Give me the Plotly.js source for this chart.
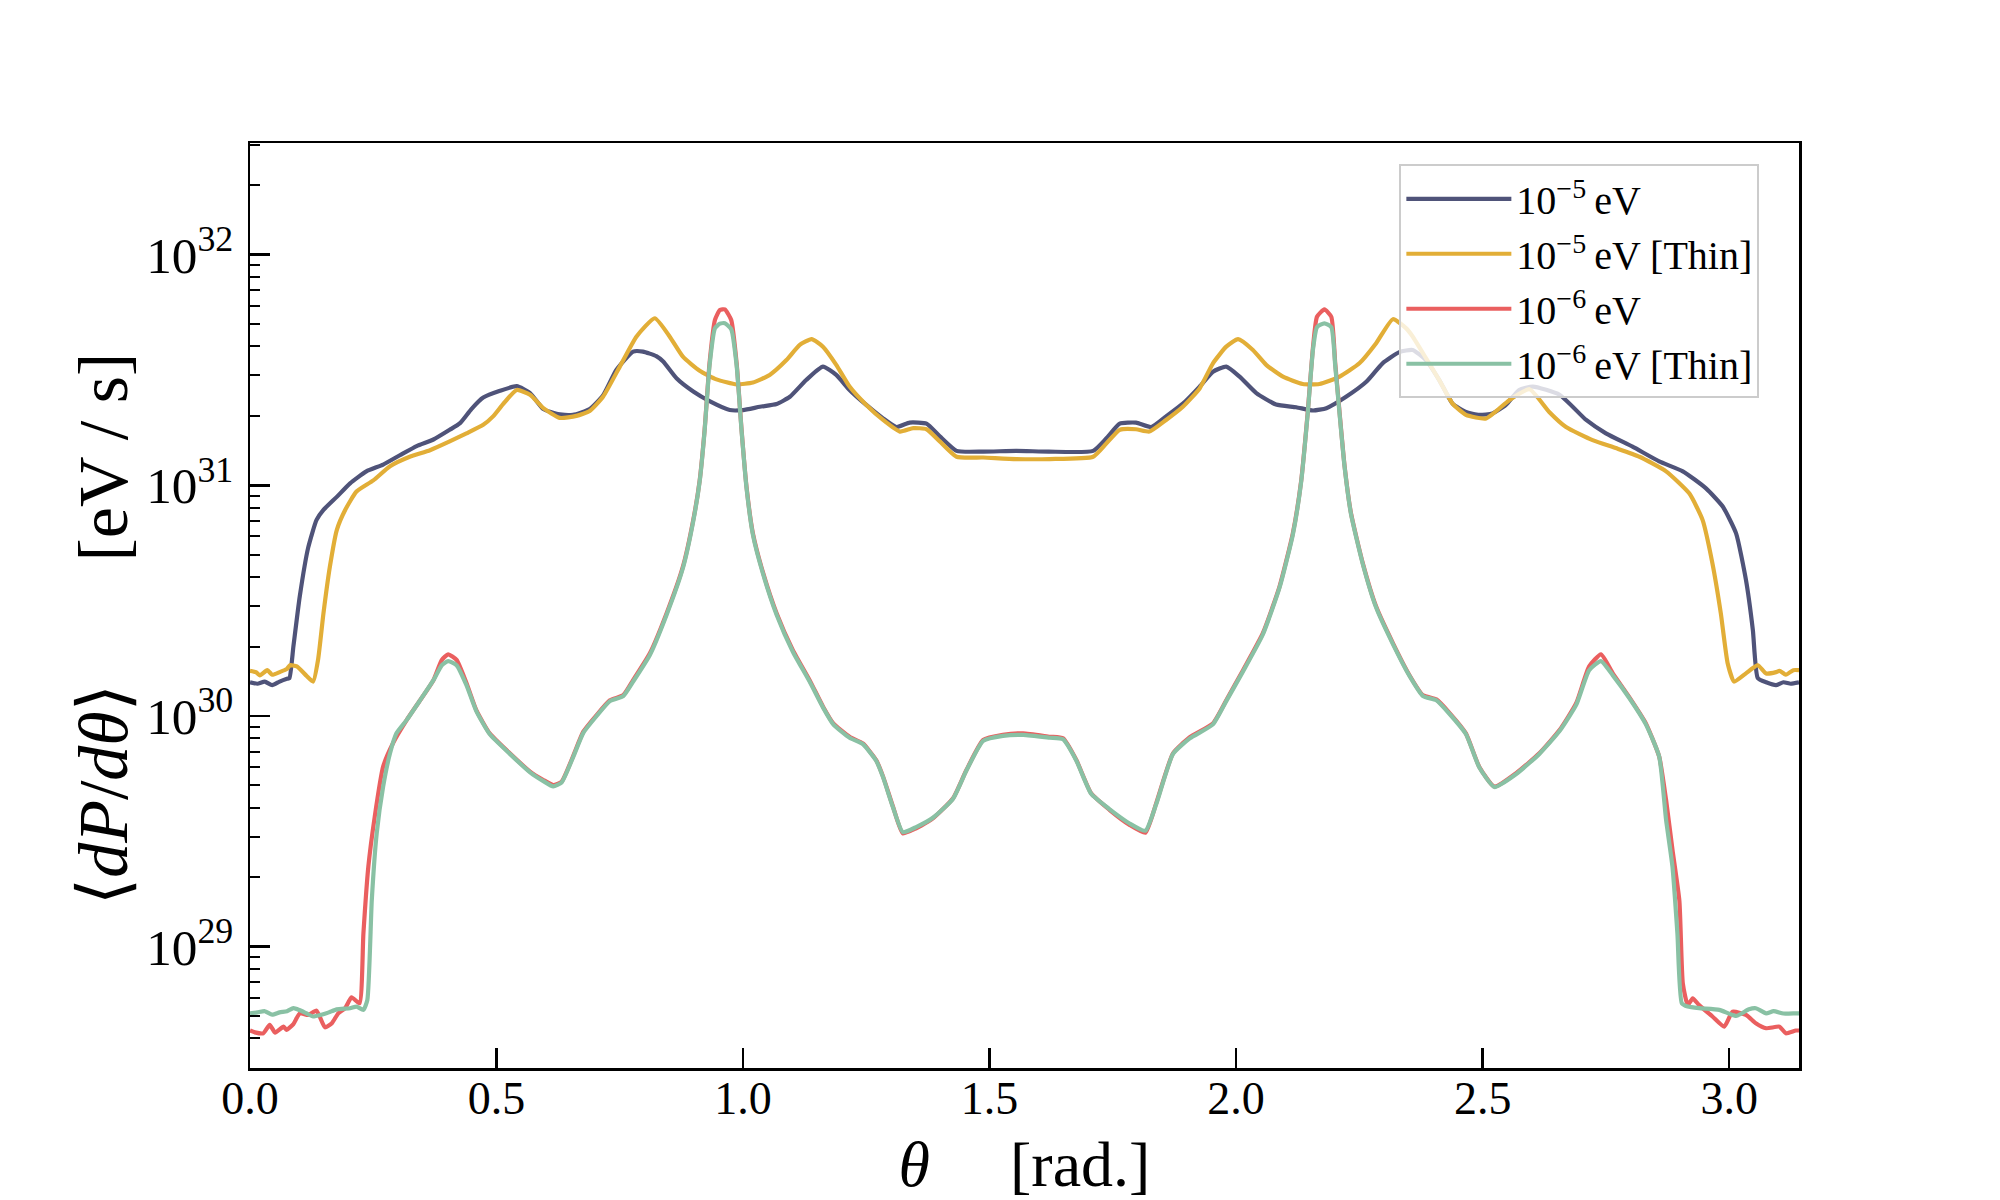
<!DOCTYPE html>
<html>
<head>
<meta charset="utf-8">
<script src="https://cdn.plot.ly/plotly-3.0.1.min.js"></script>
<style>html,body{margin:0;padding:0;background:#fff;}#chart{width:2000px;height:1200px;}</style>
</head>
<body>
<div id="chart"></div>
<script>
// ---- data (theta in rad, dP/dtheta in eV/s) ----
const seriesNames = ["10<sup>\u22125</sup>\u2009eV", "10<sup>\u22125</sup>\u2009eV [Thin]", "10<sup>\u22126</sup>\u2009eV", "10<sup>\u22126</sup>\u2009eV [Thin]"];
const seriesColors = ["#4f5379", "#e2ae37", "#ea5f5f", "#89c1a4"];

const thetaA = [0.000,0.015,0.030,0.045,0.060,0.075,0.080,0.088,0.101,0.118,0.135,0.149,0.176,0.203,0.236,0.270,0.304,0.338,0.372,0.405,0.426,0.449,0.473,0.507,0.541,0.568,0.595,0.622,0.655,0.689,0.716,0.743,0.777,0.797,0.824,0.838,0.865,0.899,0.933,0.973,1.000,1.034,1.068,1.095,1.128,1.162,1.189,1.216,1.250,1.284,1.311,1.338,1.372,1.399,1.433,1.487,1.554,1.620,1.710,1.737,1.764,1.797,1.828,1.858,1.892,1.926,1.953,1.980,2.007,2.041,2.081,2.122,2.156,2.183,2.223,2.264,2.297,2.331,2.358,2.385,2.412,2.439,2.466,2.493,2.520,2.547,2.574,2.602,2.656,2.710,2.750,2.804,2.858,2.906,2.953,2.987,3.014,3.034,3.048,3.058,3.075,3.095,3.110,3.125,3.1416];
const powerA = [1.40e30,1.38e30,1.41e30,1.36e30,1.41e30,1.45e30,1.46e30,2.00e30,3.31e30,5.37e30,7.08e30,7.82e30,8.91e30,1.02e31,1.15e31,1.23e31,1.35e31,1.48e31,1.58e31,1.74e31,1.86e31,2.14e31,2.40e31,2.57e31,2.69e31,2.51e31,2.14e31,2.04e31,2.02e31,2.14e31,2.45e31,3.16e31,3.80e31,3.80e31,3.63e31,3.44e31,2.91e31,2.55e31,2.31e31,2.12e31,2.12e31,2.19e31,2.25e31,2.42e31,2.86e31,3.27e31,3.01e31,2.59e31,2.23e31,1.95e31,1.79e31,1.87e31,1.85e31,1.63e31,1.41e31,1.40e31,1.41e31,1.40e31,1.41e31,1.60e31,1.85e31,1.87e31,1.79e31,1.99e31,2.26e31,2.68e31,3.11e31,3.27e31,2.96e31,2.51e31,2.24e31,2.18e31,2.11e31,2.16e31,2.42e31,2.81e31,3.38e31,3.78e31,3.86e31,3.49e31,2.86e31,2.26e31,2.08e31,2.02e31,2.05e31,2.23e31,2.59e31,2.68e31,2.47e31,1.92e31,1.68e31,1.47e31,1.27e31,1.15e31,9.70e30,8.09e30,6.19e30,3.89e30,2.36e30,1.46e30,1.40e30,1.36e30,1.40e30,1.38e30,1.40e30];

const thetaB = [0.000,0.012,0.020,0.035,0.045,0.060,0.075,0.081,0.095,0.115,0.128,0.138,0.149,0.162,0.176,0.193,0.216,0.250,0.284,0.324,0.365,0.405,0.439,0.473,0.493,0.514,0.541,0.568,0.595,0.628,0.662,0.689,0.716,0.750,0.784,0.821,0.851,0.878,0.912,0.946,0.987,1.020,1.054,1.088,1.115,1.139,1.162,1.189,1.216,1.250,1.284,1.318,1.345,1.372,1.399,1.433,1.487,1.554,1.622,1.710,1.737,1.764,1.797,1.824,1.858,1.892,1.926,1.953,1.980,2.004,2.034,2.061,2.095,2.135,2.169,2.210,2.250,2.284,2.318,2.345,2.358,2.385,2.412,2.439,2.466,2.507,2.554,2.595,2.635,2.669,2.723,2.770,2.818,2.872,2.919,2.946,2.966,2.983,2.997,3.010,3.034,3.058,3.075,3.095,3.102,3.115,3.130,3.1416];
const powerB = [1.57e30,1.55e30,1.50e30,1.58e30,1.51e30,1.55e30,1.60e30,1.66e30,1.64e30,1.49e30,1.41e30,1.75e30,2.79e30,4.44e30,6.40e30,7.82e30,9.40e30,1.05e31,1.21e31,1.33e31,1.42e31,1.55e31,1.68e31,1.83e31,1.99e31,2.26e31,2.59e31,2.47e31,2.16e31,1.96e31,2.00e31,2.10e31,2.42e31,3.27e31,4.42e31,5.30e31,4.42e31,3.61e31,3.14e31,2.88e31,2.74e31,2.79e31,3.01e31,3.49e31,4.06e31,4.30e31,3.99e31,3.33e31,2.68e31,2.23e31,1.92e31,1.71e31,1.77e31,1.75e31,1.55e31,1.33e31,1.32e31,1.30e31,1.30e31,1.33e31,1.52e31,1.74e31,1.75e31,1.71e31,1.92e31,2.19e31,2.63e31,3.38e31,3.99e31,4.30e31,3.86e31,3.33e31,2.96e31,2.75e31,2.75e31,2.96e31,3.38e31,4.13e31,5.25e31,4.79e31,4.42e31,3.56e31,2.86e31,2.26e31,2.02e31,1.95e31,2.34e31,2.61e31,2.08e31,1.79e31,1.57e31,1.45e31,1.33e31,1.15e31,9.23e30,7.08e30,4.59e30,2.79e30,1.69e30,1.41e30,1.53e30,1.66e30,1.53e30,1.55e30,1.57e30,1.51e30,1.58e30,1.58e30];

const thetaC = [0.000,0.010,0.027,0.040,0.051,0.068,0.074,0.088,0.101,0.118,0.135,0.152,0.166,0.179,0.193,0.206,0.222,0.230,0.240,0.253,0.270,0.290,0.318,0.345,0.372,0.389,0.402,0.419,0.439,0.459,0.486,0.527,0.568,0.595,0.615,0.632,0.655,0.676,0.703,0.730,0.757,0.777,0.811,0.845,0.878,0.899,0.912,0.922,0.932,0.943,0.953,0.963,0.976,0.987,0.997,1.007,1.020,1.041,1.068,1.101,1.135,1.162,1.183,1.216,1.243,1.270,1.284,1.304,1.324,1.351,1.385,1.426,1.453,1.487,1.527,1.568,1.622,1.649,1.676,1.706,1.743,1.784,1.816,1.838,1.872,1.906,1.953,1.980,2.014,2.054,2.088,2.115,2.132,2.145,2.156,2.164,2.179,2.193,2.201,2.210,2.220,2.233,2.257,2.284,2.318,2.351,2.379,2.406,2.433,2.466,2.493,2.524,2.568,2.615,2.656,2.690,2.716,2.740,2.764,2.797,2.831,2.858,2.872,2.885,2.899,2.906,2.916,2.926,2.939,2.966,2.990,3.007,3.034,3.054,3.075,3.102,3.115,3.135,3.1416];
const powerC = [4.33e28,4.25e28,4.21e28,4.58e28,4.24e28,4.50e28,4.36e28,4.62e28,5.14e28,5.06e28,5.28e28,4.47e28,4.66e28,5.14e28,5.41e28,6.03e28,5.68e28,1.14e29,2.22e29,3.66e29,6.03e29,7.62e29,9.62e29,1.17e30,1.43e30,1.75e30,1.85e30,1.75e30,1.39e30,1.06e30,8.41e29,6.89e29,5.74e29,5.28e29,5.02e29,5.19e29,6.67e29,8.55e29,1.01e30,1.17e30,1.23e30,1.43e30,1.87e30,2.79e30,4.44e30,7.08e30,1.05e31,1.74e31,3.38e31,5.21e31,5.75e31,5.79e31,5.21e31,3.38e31,1.74e31,9.86e30,6.19e30,4.15e30,2.79e30,1.93e30,1.43e30,1.10e30,9.29e29,8.13e29,7.60e29,6.44e29,5.46e29,4.05e29,3.10e29,3.26e29,3.60e29,4.40e29,5.83e29,7.87e29,8.28e29,8.41e29,8.13e29,8.00e29,6.44e29,4.62e29,3.92e29,3.37e29,3.12e29,4.19e29,6.89e29,8.09e29,9.29e29,1.17e30,1.58e30,2.28e30,3.64e30,6.19e30,1.05e31,2.05e31,3.99e31,5.38e31,5.79e31,5.38e31,3.38e31,2.05e31,1.21e31,7.57e30,4.59e30,2.98e30,2.07e30,1.51e30,1.23e30,1.18e30,1.03e30,8.41e29,6.03e29,4.94e29,5.65e29,6.89e29,8.69e29,1.14e30,1.64e30,1.85e30,1.53e30,1.21e30,9.29e29,6.67e29,4.33e29,2.63e29,1.58e29,6.92e28,5.58e28,5.97e28,5.58e28,4.98e28,4.50e28,5.22e28,5.06e28,4.66e28,4.43e28,4.50e28,4.21e28,4.33e28,4.33e28];

const thetaD = [0.000,0.015,0.030,0.045,0.060,0.075,0.088,0.100,0.115,0.128,0.145,0.160,0.176,0.203,0.216,0.230,0.238,0.247,0.257,0.270,0.284,0.297,0.318,0.345,0.372,0.389,0.402,0.419,0.439,0.459,0.486,0.527,0.568,0.595,0.615,0.632,0.655,0.676,0.703,0.730,0.757,0.777,0.811,0.845,0.878,0.899,0.912,0.922,0.932,0.943,0.953,0.963,0.976,0.987,0.997,1.007,1.020,1.041,1.068,1.101,1.135,1.162,1.183,1.216,1.243,1.270,1.284,1.304,1.324,1.351,1.385,1.426,1.453,1.487,1.527,1.568,1.622,1.649,1.676,1.706,1.743,1.784,1.816,1.838,1.872,1.906,1.953,1.980,2.014,2.054,2.088,2.115,2.132,2.145,2.156,2.164,2.179,2.193,2.201,2.210,2.220,2.233,2.257,2.284,2.318,2.351,2.379,2.406,2.433,2.466,2.493,2.524,2.568,2.615,2.656,2.690,2.716,2.740,2.764,2.797,2.831,2.858,2.872,2.885,2.895,2.904,2.916,2.939,2.980,3.014,3.040,3.054,3.075,3.090,3.110,3.135,3.1416];
const powerD = [5.14e28,5.19e28,5.25e28,5.07e28,5.19e28,5.25e28,5.41e28,5.31e28,5.13e28,4.98e28,5.07e28,5.19e28,5.35e28,5.41e28,5.50e28,5.32e28,5.87e28,1.59e29,3.10e29,4.94e29,6.89e29,8.41e29,9.62e29,1.17e30,1.43e30,1.66e30,1.73e30,1.66e30,1.36e30,1.05e30,8.35e29,6.85e29,5.70e29,5.22e29,4.95e29,5.15e29,6.60e29,8.45e29,1.00e30,1.16e30,1.22e30,1.41e30,1.84e30,2.75e30,4.38e30,7.00e30,1.04e31,1.72e31,3.30e31,4.80e31,5.02e31,5.04e31,4.75e31,3.30e31,1.72e31,9.75e30,6.10e30,4.10e30,2.75e30,1.90e30,1.41e30,1.09e30,9.20e29,8.05e29,7.55e29,6.40e29,5.42e29,4.02e29,3.14e29,3.30e29,3.62e29,4.38e29,5.80e29,7.80e29,8.20e29,8.28e29,8.05e29,7.92e29,6.40e29,4.60e29,3.95e29,3.42e29,3.18e29,4.15e29,6.85e29,8.00e29,9.20e29,1.16e30,1.56e30,2.25e30,3.60e30,6.10e30,1.04e31,2.02e31,3.90e31,4.85e31,5.04e31,4.85e31,3.30e31,2.02e31,1.20e31,7.50e30,4.55e30,2.95e30,2.05e30,1.50e30,1.22e30,1.17e30,1.02e30,8.35e29,6.00e29,4.92e29,5.60e29,6.85e29,8.60e29,1.12e30,1.58e30,1.73e30,1.50e30,1.20e30,9.20e29,6.67e29,3.55e29,2.22e29,1.14e29,5.68e28,5.50e28,5.41e28,5.32e28,5.01e28,5.35e28,5.41e28,5.14e28,5.25e28,5.13e28,5.14e28,5.14e28];

const xTickVals = [0, 0.5, 1.0, 1.5, 2.0, 2.5, 3.0];
const xTickText = ["0.0", "0.5", "1.0", "1.5", "2.0", "2.5", "3.0"];

// ---- figure ----
const xs = [thetaA, thetaB, thetaC, thetaD];
const ys = [powerA, powerB, powerC, powerD];
const traces = xs.map((x, i) => ({
  x: x, y: ys[i], type: "scatter", mode: "lines",
  name: seriesNames[i],
  line: {color: seriesColors[i], width: 4.2, shape: "spline", smoothing: 0.5}
}));

const serif = "'Liberation Serif', 'DejaVu Serif', serif";
const sp = "\u00a0";
const layout = {
  width: 2000, height: 1200,
  paper_bgcolor: "#ffffff", plot_bgcolor: "#ffffff",
  margin: {l: 250, r: 201, t: 143, b: 132},
  font: {family: serif, color: "#000", size: 46},
  showlegend: true,
  legend: {
    x: 0.742, y: 0.977, xanchor: "left", yanchor: "top",
    bgcolor: "rgba(255,255,255,0.8)", bordercolor: "#cccccc", borderwidth: 2,
    font: {family: serif, size: 40, color: "#000"},
    itemwidth: 105, tracegroupgap: 4
  },
  xaxis: {
    range: [0, 3.1416], tickmode: "array", tickvals: xTickVals, ticktext: xTickText,
    ticks: "inside", ticklen: 20, tickwidth: 2.5, tickcolor: "#000",
    showline: true, linewidth: 2.5, linecolor: "#000", mirror: true,
    showgrid: false, zeroline: false,
    tickfont: {family: serif, size: 46}, ticklabelstandoff: -12,
    title: {text: "<i>\u03b8</i>" + sp.repeat(5) + "[rad.]", font: {family: serif, size: 64}, standoff: 22}
  },
  yaxis: {
    type: "log", range: [28.474, 32.484], dtick: 1, exponentformat: "power", showexponent: "all",
    ticks: "inside", ticklen: 20, tickwidth: 2.5, tickcolor: "#000",
    minor: {ticks: "inside", ticklen: 10, tickwidth: 2, tickcolor: "#000", dtick: "D1", showgrid: false},
    showline: true, linewidth: 2.5, linecolor: "#000", mirror: true,
    showgrid: false, zeroline: false,
    tickfont: {family: serif, size: 41}, ticklabelstandoff: 6
  },
  annotations: [{
    text: "\u27e8<i>dP</i>/<i>d\u03b8</i>\u27e9" + sp.repeat(7) + "[eV / s]",
    xref: "paper", yref: "paper", x: -0.0945, y: 0.474, xanchor: "center", yanchor: "middle",
    textangle: -90, showarrow: false, font: {family: serif, size: 70, color: "#000"}
  }]
};

Plotly.newPlot("chart", traces, layout, {staticPlot: true, displayModeBar: false});
</script>
</body>
</html>
